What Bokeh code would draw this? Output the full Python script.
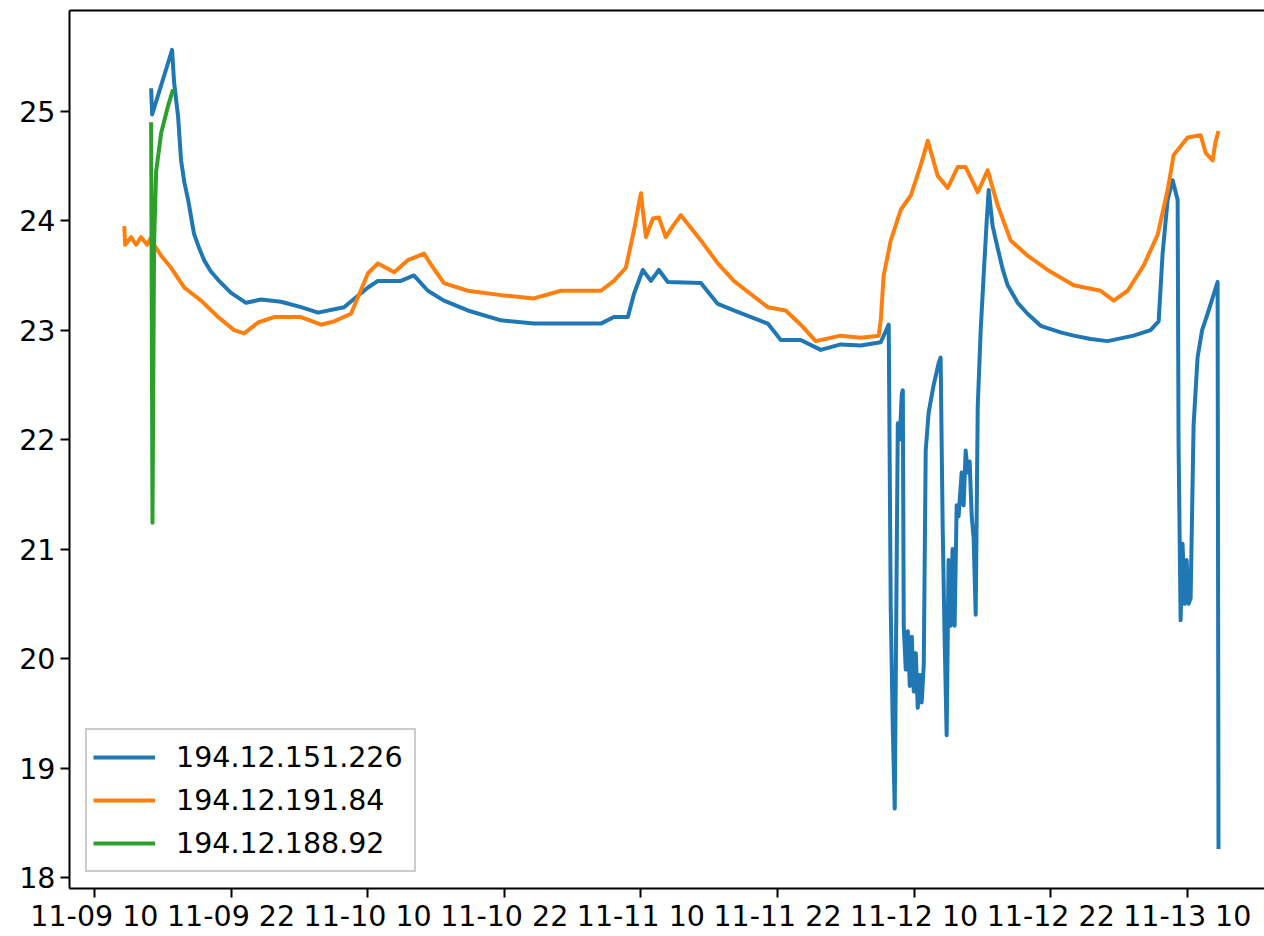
import pandas as pd
from bokeh.plotting import figure
from bokeh.models import Range1d, FixedTicker, DatetimeTickFormatter, Legend, LegendItem, LinearAxis
from bokeh.embed import file_html
from bokeh.resources import INLINE

# ---------------- data ----------------
start = "2019-11-09 10:00"          # time origin; hours below are offsets from it
tick_hours = [0, 12, 24, 36, 48, 60, 72, 84, 96]
tick_labels = ["11-09 10", "11-09 22", "11-10 10", "11-10 22", "11-11 10",
               "11-11 22", "11-12 10", "11-12 22", "11-13 10"]
y_ticks = [18, 19, 20, 21, 22, 23, 24, 25]

series_names = ["194.12.151.226", "194.12.191.84", "194.12.188.92"]
series_colors = ["#1f77b4", "#ff7f0e", "#2ca02c"]

blue_hours = [4.98, 5.07, 6.82, 7.00, 7.35, 7.61, 7.90, 8.23, 8.75, 9.20, 9.63, 10.20, 10.86, 12.00,
              13.32, 14.64, 16.39, 18.15, 19.64, 21.92, 24.03, 24.90, 26.92, 28.06, 29.29, 30.70,
              32.80, 35.71, 38.60, 41.59, 44.49, 45.63, 46.86, 47.39, 48.17, 48.88, 49.58, 50.37,
              53.27, 54.76, 56.16, 59.15, 60.29, 62.04, 63.80, 65.56, 67.31, 69.07,
              69.77, 69.95, 70.13, 70.30, 70.48, 70.57, 70.74, 70.92, 71.01, 71.09, 71.27,
              71.45, 71.62, 71.80, 71.97, 72.15, 72.32, 72.50, 72.67, 72.85, 73.02, 73.28,
              73.72, 74.16, 74.33, 74.51, 74.68, 74.86, 75.03, 75.21, 75.38, 75.56, 75.74,
              75.91, 76.18, 76.35, 76.53, 76.71, 76.88, 77.06, 77.23, 77.41, 77.59, 77.85,
              78.11, 78.38, 78.55, 78.90, 79.34, 79.80, 80.22, 81.10, 81.97, 83.12, 84.87, 86.02,
              87.51, 89.00, 91.28, 92.77, 93.48, 93.83, 94.27, 94.71, 95.15, 95.23, 95.41,
              95.58, 95.76, 95.94, 96.11, 96.29, 96.55, 96.90, 97.30, 97.78, 98.66, 98.74]
blue_temp = [25.21, 24.97, 25.56, 25.26, 24.95, 24.55, 24.35, 24.19, 23.88, 23.75, 23.64, 23.54, 23.46, 23.34,
             23.25, 23.28, 23.26, 23.21, 23.16, 23.21, 23.39, 23.45, 23.45, 23.50, 23.36, 23.27,
             23.18, 23.09, 23.06, 23.06, 23.06, 23.12, 23.12, 23.33, 23.55, 23.45, 23.55, 23.44,
             23.43, 23.24, 23.18, 23.06, 22.91, 22.91, 22.82, 22.87, 22.86, 22.89,
             23.05, 20.45, 19.35, 18.63, 21.00, 22.15, 22.00, 22.42, 22.45, 20.30, 19.90,
             20.25, 19.75, 20.20, 19.70, 20.05, 19.55, 19.85, 19.60, 19.95, 21.90, 22.25,
             22.50, 22.70, 22.75, 21.20, 20.20, 19.30, 20.90, 20.30, 21.00, 20.30, 21.40,
             21.30, 21.70, 21.40, 21.90, 21.70, 21.80, 21.30, 21.10, 20.40, 22.30, 23.00,
             23.50, 24.00, 24.28, 23.95, 23.75, 23.55, 23.41, 23.25, 23.15, 23.04, 22.98, 22.95,
             22.92, 22.90, 22.95, 23.00, 23.08, 23.70, 24.19, 24.37, 24.19, 21.99, 20.35,
             21.05, 20.50, 20.90, 20.50, 20.55, 22.13, 22.75, 23.00, 23.15, 23.44, 18.26]

orange_hours = [2.62, 2.70, 3.22, 3.66, 4.10, 4.63, 4.98, 5.24, 5.86, 6.73, 7.88, 9.37, 10.86,
                12.27, 13.14, 14.37, 15.78, 18.15, 19.91, 21.05, 22.54, 24.03, 24.90, 26.34,
                27.54, 28.95, 29.56, 30.70, 32.80, 35.71, 38.60, 40.97, 44.49, 45.63, 46.68,
                47.39, 48.00, 48.44, 49.06, 49.58, 50.19, 50.81, 51.51, 53.27, 54.76, 56.16,
                59.15, 60.72, 62.04, 63.36, 65.56, 67.31, 68.89, 69.07, 69.33, 69.95, 70.83,
                71.71, 72.59, 73.20, 74.07, 74.95, 75.83, 76.53, 77.59, 78.46, 79.34, 80.48,
                81.97, 83.73, 86.02, 88.38, 89.53, 90.76, 92.16, 93.39, 94.27, 94.80, 96.03,
                97.17, 97.61, 98.22, 98.48, 98.74]
orange_temp = [23.95, 23.78, 23.85, 23.78, 23.85, 23.78, 23.85, 23.78, 23.68, 23.57, 23.39, 23.27, 23.12,
               23.00, 22.97, 23.07, 23.12, 23.12, 23.05, 23.08, 23.15, 23.52, 23.61, 23.53,
               23.64, 23.70, 23.60, 23.43, 23.36, 23.32, 23.29, 23.36, 23.36, 23.45, 23.57,
               23.91, 24.25, 23.85, 24.02, 24.03, 23.85, 23.95, 24.05, 23.82, 23.61, 23.45,
               23.21, 23.18, 23.05, 22.90, 22.95, 22.93, 22.95, 23.09, 23.50, 23.82, 24.10,
               24.23, 24.51, 24.73, 24.41, 24.30, 24.49, 24.49, 24.26, 24.46, 24.14, 23.82,
               23.68, 23.55, 23.41, 23.36, 23.27, 23.36, 23.59, 23.87, 24.28, 24.60, 24.76,
               24.78, 24.62, 24.55, 24.72, 24.82]

green_hours = [4.98, 5.10, 5.24, 5.42, 5.86, 6.47, 6.91]
green_temp = [24.90, 21.24, 23.80, 24.45, 24.80, 25.05, 25.20]

# ---------------- figure ----------------
t0_ms = pd.Timestamp(start).value / 1e6
H = 3600000.0


def to_ms(hours):
    return [t0_ms + h * H for h in hours]


FONT = "DejaVu Sans"
FS = "28.5px"

p = figure(width=1264, height=936, x_axis_type="datetime",
           output_backend="svg", toolbar_location=None,
           x_range=Range1d(t0_ms - 2.19 * H, t0_ms + 102.78 * H),
           y_range=Range1d(17.90, 25.92),
           min_border_left=69, min_border_right=0, min_border_top=10, min_border_bottom=48)

p.outline_line_color = None
p.xgrid.visible = False
p.ygrid.visible = False
p.background_fill_color = "white"
p.border_fill_color = "white"

for ax in (p.xaxis[0], p.yaxis[0]):
    ax.axis_line_color = "black"
    ax.axis_line_width = 2
    ax.major_tick_line_color = "black"
    ax.major_tick_line_width = 2
    ax.major_tick_out = 9
    ax.major_tick_in = 0
    ax.minor_tick_line_color = None
    ax.major_label_text_font = FONT
    ax.major_label_text_font_size = FS
    ax.major_label_text_color = "black"

p.xaxis[0].ticker = FixedTicker(ticks=to_ms(tick_hours))
fmt = "%m-%d %H"
p.xaxis[0].formatter = DatetimeTickFormatter(milliseconds=fmt, seconds=fmt, minsec=fmt, minutes=fmt,
                                             hourmin=fmt, hours=fmt, days=fmt, months=fmt, years=fmt)
p.xaxis[0].major_label_standoff = 2
p.yaxis[0].ticker = FixedTicker(ticks=y_ticks)
p.yaxis[0].major_label_standoff = 5

# top spine (the right spine lies outside the picture in the reference)
top = LinearAxis(ticker=FixedTicker(ticks=[]), axis_line_color="black", axis_line_width=2,
                 major_tick_out=0, major_tick_in=0, minor_tick_line_color=None,
                 major_label_text_font_size="0px", major_label_standoff=0)
p.add_layout(top, "above")

renderers = []
for hrs, vals, col in ((blue_hours, blue_temp, series_colors[0]),
                       (orange_hours, orange_temp, series_colors[1]),
                       (green_hours, green_temp, series_colors[2])):
    r = p.line(to_ms(hrs), vals, line_color=col, line_width=4, line_join="round")
    renderers.append(r)

legend = Legend(items=[LegendItem(label=n, renderers=[r]) for n, r in zip(series_names, renderers)],
                location=(16, 16), label_text_font=FONT, label_text_font_size=FS,
                label_text_color="black", glyph_width=62, glyph_height=20, label_standoff=21,
                padding=6, spacing=1, label_height=42, label_width=232, margin=0,
                border_line_color="#cccccc", border_line_width=2, border_line_alpha=1.0,
                background_fill_color="white", background_fill_alpha=0.8)
p.add_layout(legend)

open("out.html", "w").write(file_html(p, INLINE))
